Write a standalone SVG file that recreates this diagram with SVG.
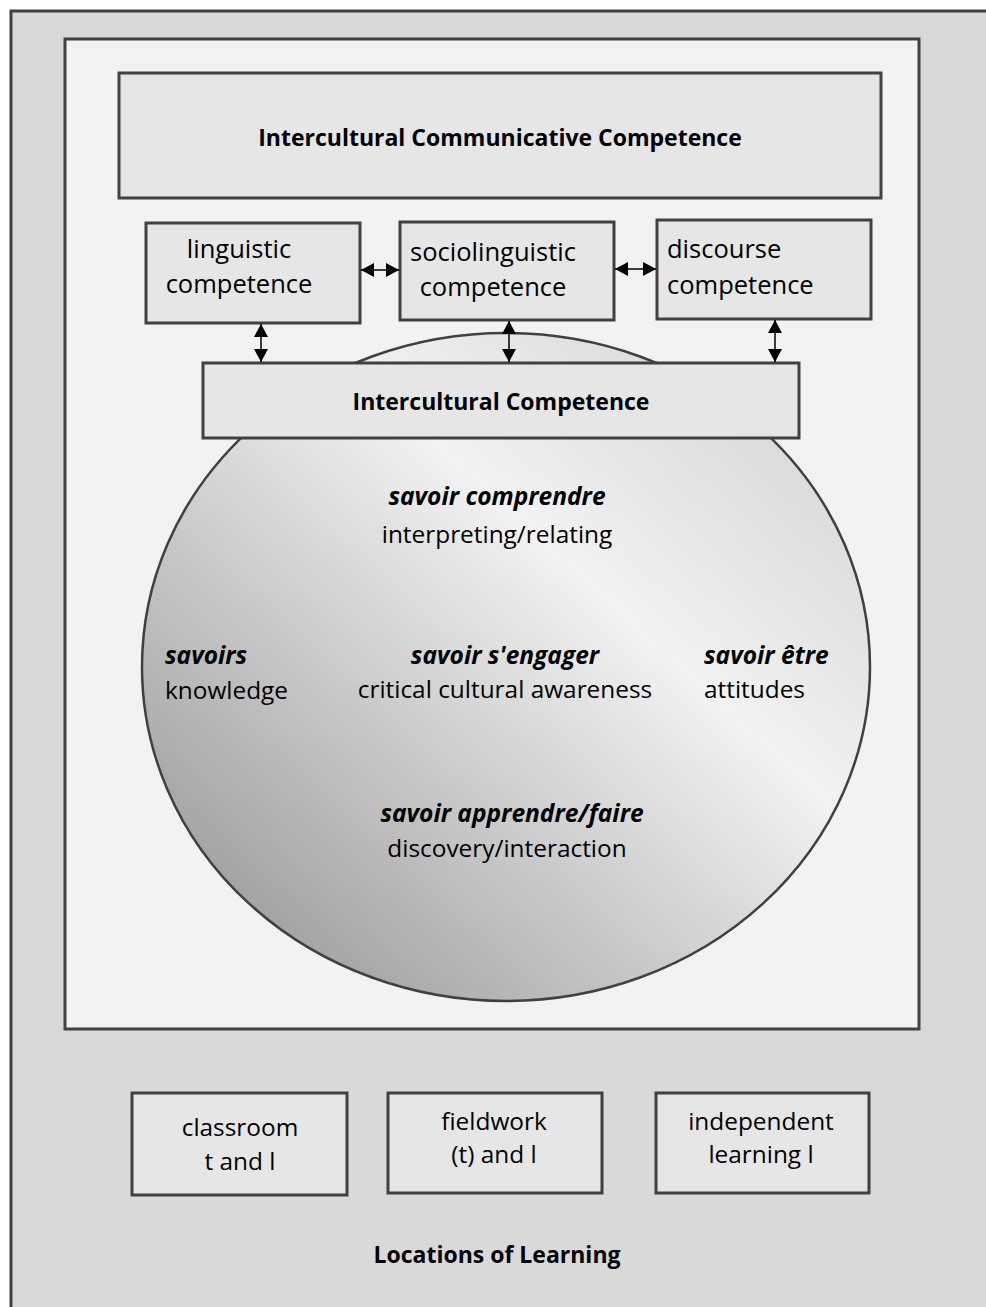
<svg xmlns="http://www.w3.org/2000/svg" width="986" height="1307" viewBox="0 0 986 1307">
  <style>
    .frame { stroke: #404040; stroke-width: 3; }
    .box { fill: #e6e6e6; stroke: #404040; stroke-width: 3; }
    .t { font-family: "Open Sans", "Liberation Sans", sans-serif; font-size: 24.4px; fill: #000; }
    .big { font-size: 25.5px; }
    .b { font-weight: bold; font-size: 23px; }
    .bi { font-weight: bold; font-style: italic; font-size: 24.5px; }
    .c { text-anchor: middle; }
    .arrow { stroke: #000; stroke-width: 1.5; fill: none; marker-start: url(#head); marker-end: url(#head); }
  </style>
  <defs>
    <marker id="head" markerUnits="userSpaceOnUse" markerWidth="14" markerHeight="14" refX="13" refY="7" orient="auto-start-reverse">
      <path d="M0,0 L13,7 L0,14 Z" fill="#000"/>
    </marker>
    <linearGradient id="sphere" x1="0" y1="1" x2="1" y2="0">
      <stop offset="0" stop-color="#8c8c8c"/>
      <stop offset="0.62" stop-color="#f2f2f2"/>
      <stop offset="1" stop-color="#cdcdcd"/>
    </linearGradient>
  </defs>

  <rect x="0" y="0" width="986" height="1307" fill="#ffffff"/>

  <!-- outer panel -->
  <g id="outer">
    <rect class="frame" x="11" y="11" width="1000" height="1320" fill="#d9d9d9"/>
  </g>

  <!-- competence panel -->
  <g id="inner">
    <rect class="frame" x="65" y="39" width="854" height="990" fill="#f2f2f2"/>
  </g>

  <!-- intercultural competence sphere -->
  <g id="sphere-node">
    <ellipse cx="506" cy="667" rx="364" ry="334" fill="url(#sphere)" stroke="#404040" stroke-width="2.5"/>
    <text class="t bi c" x="497" y="505">savoir comprendre</text>
    <text class="t c" x="497" y="543">interpreting/relating</text>
    <text class="t bi" x="165" y="664">savoirs</text>
    <text class="t" x="165" y="699">knowledge</text>
    <text class="t bi c" x="505" y="664">savoir s'engager</text>
    <text class="t c" x="505" y="698">critical cultural awareness</text>
    <text class="t bi" x="704" y="664">savoir être</text>
    <text class="t" x="704" y="698">attitudes</text>
    <text class="t bi c" x="512" y="822">savoir apprendre/faire</text>
    <text class="t c" x="507" y="857">discovery/interaction</text>
  </g>

  <g id="icc">
    <rect class="box" x="119" y="73" width="762" height="125"/>
    <text class="t b c" x="500" y="146">Intercultural Communicative Competence</text>
  </g>

  <g id="linguistic">
    <rect class="box" x="146" y="223" width="214" height="100"/>
    <text class="t big c" x="239" y="258">linguistic</text>
    <text class="t big c" x="239" y="293">competence</text>
  </g>

  <g id="sociolinguistic">
    <rect class="box" x="400" y="222" width="214" height="98"/>
    <text class="t big c" x="493" y="261">sociolinguistic</text>
    <text class="t big c" x="493" y="296">competence</text>
  </g>

  <g id="discourse">
    <rect class="box" x="657" y="220" width="214" height="99"/>
    <text class="t big" x="667" y="258">discourse</text>
    <text class="t big" x="667" y="294">competence</text>
  </g>

  <g id="ic">
    <rect class="box" x="203" y="363" width="596" height="75"/>
    <text class="t b c" x="501" y="410">Intercultural Competence</text>
  </g>

  <!-- connectors -->
  <g id="connectors">
    <line class="arrow" x1="361" y1="270" x2="399" y2="270"/>
    <line class="arrow" x1="615" y1="269" x2="656" y2="269"/>
    <line class="arrow" x1="261" y1="324" x2="261" y2="362"/>
    <line class="arrow" x1="509" y1="321" x2="509" y2="362"/>
    <line class="arrow" x1="775" y1="320" x2="775" y2="362"/>
  </g>

  <g id="classroom">
    <rect class="box" x="132" y="1093" width="215" height="102"/>
    <text class="t c" x="240" y="1136">classroom</text>
    <text class="t c" x="240" y="1170">t and l</text>
  </g>

  <g id="fieldwork">
    <rect class="box" x="388" y="1093" width="214" height="100"/>
    <text class="t c" x="494" y="1130">fieldwork</text>
    <text class="t c" x="494" y="1163">(t) and l</text>
  </g>

  <g id="independent">
    <rect class="box" x="656" y="1093" width="213" height="100"/>
    <text class="t c" x="761" y="1130">independent</text>
    <text class="t c" x="761" y="1163">learning l</text>
  </g>

  <g id="locations">
    <text class="t b c" x="497" y="1263">Locations of Learning</text>
  </g>
</svg>
